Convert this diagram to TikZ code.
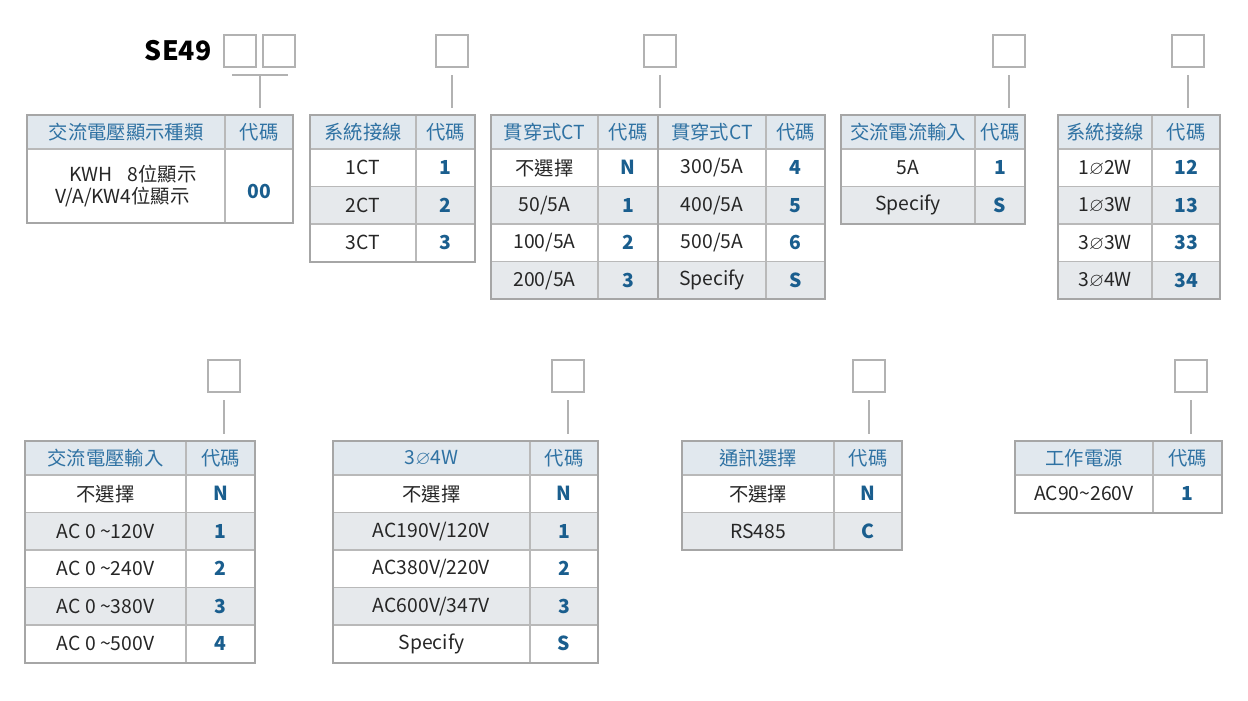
\documentclass[tikz,border=0pt]{standalone}
\usepackage{fontspec}
\setmainfont{Noto Sans CJK TC}
\usepackage{amssymb}
\definecolor{headfill}{HTML}{E1E8EE}
\definecolor{rowfill}{HTML}{E6E9EC}
\definecolor{headblue}{HTML}{2F72A3}
\definecolor{codeblue}{HTML}{1A5E8E}
\tikzset{
  grid/.style={draw=gray!55, line width=0.8pt},
  frame/.style={draw=gray!70, line width=1.5pt},
  headtxt/.style={text=headblue, font=\fontsize{14.5}{17}\selectfont},
  bodytxt/.style={text=black!85, font=\fontsize{14.5}{17}\selectfont},
  codetxt/.style={text=codeblue, font=\fontsize{14.5}{17}\selectfont\bfseries},
  slot/.style={draw=gray!60, line width=0.8pt, minimum size=24pt, inner sep=0pt},
  conn/.style={draw=gray!60, line width=0.8pt}
}
% left, split, right, top, header, rows
\newcommand\codetab[6]{%
  \fill[headfill] (#1,#4) rectangle (#3,#4+34);
  \node[headtxt] at ({(#1+#2)/2},#4+17) {#5};
  \node[headtxt] at ({(#2+#3)/2},#4+17) {代碼};
  \foreach \txt/\code [count=\i] in {#6} {
    \pgfmathsetmacro\ya{#4+34+(\i-1)*37.5}
    \ifodd\i\else \fill[rowfill] (#1,\ya) rectangle (#3,\ya+37.5);\fi
    \draw[grid] (#1,\ya) -- (#3,\ya);
    \node[bodytxt] at ({(#1+#2)/2},\ya+18.75) {\txt};
    \node[codetxt] at ({(#2+#3)/2},\ya+18.75) {\code};
    \pgfmathsetmacro\yb{\ya+37.5}
    \xdef\ybot{\yb}
  }
  \draw[grid] (#2,#4) -- (#2,\ybot);
  \draw[frame] (#1,#4) rectangle (#3,\ybot);
}
\begin{document}
\begin{tikzpicture}[x=0.75pt, y=-0.75pt]
  \useasboundingbox (0,0) rectangle (1248,700);
  %model code and slots
  \node[anchor=east, font=\fontsize{20}{24}\selectfont\bfseries] (model) at (216,51) {SE49};
  \node[slot] (s1a) at (240,51) {};
  \node[slot] (s1b) at (279,51) {};
  \node[slot] (s2) at (452,51) {};
  \node[slot] (s3) at (660,51) {};
  \node[slot] (s4) at (1009,51) {};
  \node[slot] (s5) at (1188,51) {};
  \node[slot] (s6) at (224,376) {};
  \node[slot] (s7) at (568,376) {};
  \node[slot] (s8) at (869,376) {};
  \node[slot] (s9) at (1191,376) {};

  %links to the tables
  \coordinate (j1) at (260,75);
  \draw[conn] (232,75) -- (288,75);
  \draw[conn] (j1) -- (260,108);
  \foreach \s/\x in {s2/452, s3/660, s4/1009, s5/1188}
    \draw[conn] (\x,75) -- (\x,108);
  \foreach \s/\x in {s6/224, s7/568, s8/869, s9/1191}
    \draw[conn] (\x,400) -- (\x,434);

  %display type
  \fill[headfill] (27,115) rectangle (293,149);
  \node[headtxt] at (126,132) {交流電壓顯示種類};
  \node[headtxt] at (259,132) {代碼};
  \draw[grid] (27,149) -- (293,149) (225,115) -- (225,223);
  \node[bodytxt, align=left] at (126,186) {\hspace{0.7em}KWH\hspace{0.8em}8位顯示\\V/A/KW4位顯示};
  \node[codetxt] at (259,191) {00};
  \draw[frame] (27,115) rectangle (293,223);

  %top row tables
  \codetab{310}{416}{475}{115}{系統接線}{1CT/1,2CT/2,3CT/3}
  \codetab{491}{598}{658}{115}{貫穿式CT}{{不選擇}/N,{50/5A}/1,{100/5A}/2,{200/5A}/3}
  \codetab{658}{766}{825}{115}{貫穿式CT}{{300/5A}/4,{400/5A}/5,{500/5A}/6,{Specify}/S}
  \codetab{841}{975}{1025}{115}{交流電流輸入}{5A/1,Specify/S}
  \codetab{1058}{1152}{1220}{115}{系統接線}{{1$\varnothing$2W}/12,{1$\varnothing$3W}/13,{3$\varnothing$3W}/33,{3$\varnothing$4W}/34}

  %bottom row tables
  \codetab{25}{186}{255}{441}{交流電壓輸入}{{不選擇}/N,{AC 0 \textasciitilde120V}/1,{AC 0 \textasciitilde240V}/2,{AC 0 \textasciitilde380V}/3,{AC 0 \textasciitilde500V}/4}
  \codetab{333}{530}{598}{441}{3$\varnothing$4W}{{不選擇}/N,{AC190V/120V}/1,{AC380V/220V}/2,{AC600V/347V}/3,{Specify}/S}
  \codetab{682}{834}{902}{441}{通訊選擇}{{不選擇}/N,{RS485}/C}
  \codetab{1015}{1153}{1222}{441}{工作電源}{{AC90\textasciitilde260V}/1}
\end{tikzpicture}
\end{document}
